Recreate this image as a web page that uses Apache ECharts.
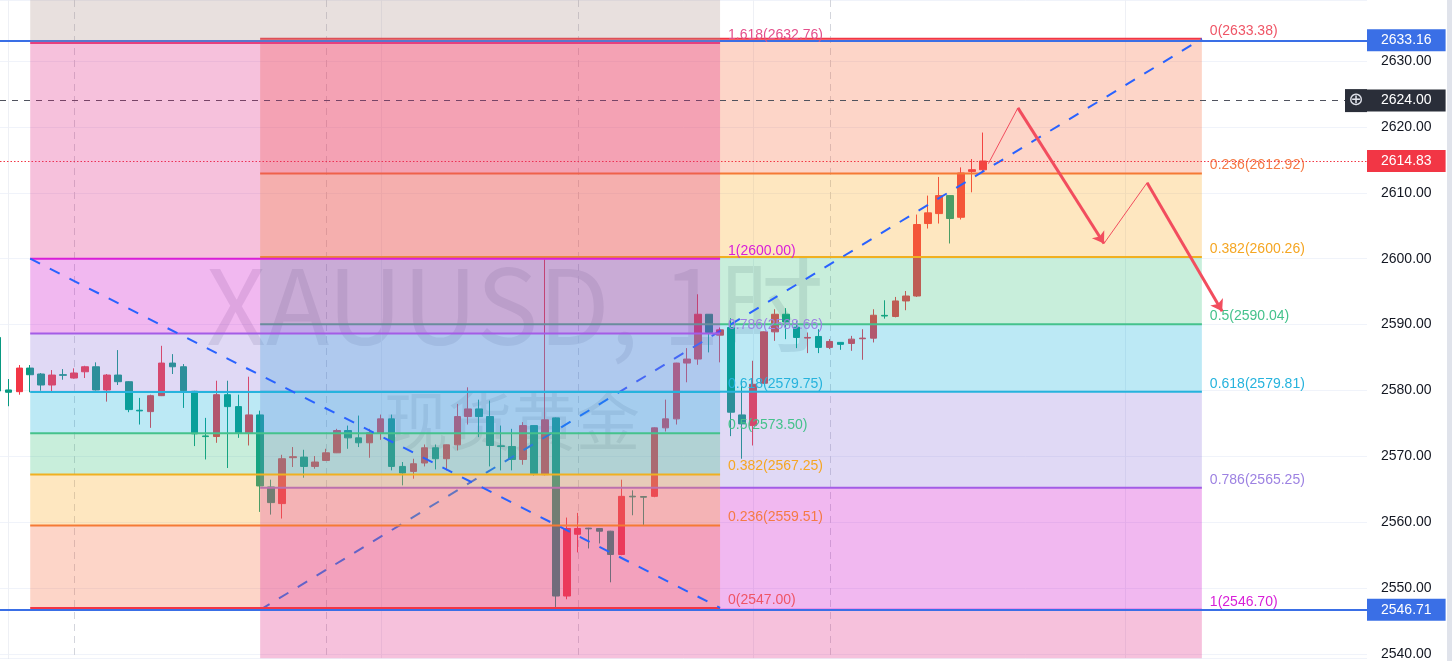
<!DOCTYPE html>
<html><head><meta charset="utf-8">
<script src="https://cdn.jsdelivr.net/npm/echarts@6/dist/echarts.min.js"></script>
<style>html,body{margin:0;padding:0;background:#fff;overflow:hidden}#c{width:1452px;height:661px}</style>
</head><body><div id="c"></div>
<script>
// ---------------- data ----------------
const firstBar = -1; // bar index of the first candle
const opens = [2588.05,2580.08,2579.82,2583.40,2582.50,2580.83,2582.40,2581.89,2582.84,2583.60,2580.08,2582.34,2581.33,2577.00,2576.79,2579.21,2584.16,2583.60,2579.88,2573.10,2573.01,2579.36,2577.55,2573.57,2576.29,2565.36,2562.83,2569.80,2569.89,2568.47,2569.38,2570.54,2573.92,2572.81,2572.06,2573.57,2575.69,2568.47,2567.72,2568.99,2571.30,2569.64,2571.75,2576.04,2577.20,2576.04,2571.60,2571.50,2569.53,2574.67,2567.22,2575.84,2548.80,2558.18,2559.10,2559.05,2558.64,2555.11,2563.95,2563.90,2563.93,2574.33,2575.69,2584.16,2584.77,2591.57,2588.40,2589.56,2576.29,2574.67,2581.10,2588.90,2591.57,2589.61,2587.95,2588.20,2586.54,2587.30,2587.14,2587.85,2587.94,2591.40,2591.23,2593.59,2594.34,2605.34,2606.85,2609.58,2606.29,2613.25,2613.50];
const closes = [2579.92,2579.73,2583.40,2582.39,2580.83,2582.34,2582.30,2582.65,2583.60,2580.08,2582.34,2581.33,2577.10,2576.90,2579.21,2584.16,2583.60,2579.97,2573.42,2573.00,2579.36,2577.55,2573.57,2576.29,2565.51,2562.98,2569.64,2569.95,2568.47,2569.14,2570.54,2573.92,2572.81,2572.06,2573.57,2575.69,2568.47,2567.47,2568.88,2571.30,2569.64,2571.75,2576.04,2577.20,2576.04,2571.65,2571.50,2569.53,2574.67,2567.37,2575.54,2548.80,2559.05,2559.05,2559.00,2558.64,2555.11,2563.93,2563.85,2563.80,2574.33,2575.69,2584.16,2584.77,2591.57,2588.80,2589.20,2576.70,2574.93,2580.94,2588.90,2591.57,2590.40,2588.05,2588.05,2586.54,2587.44,2587.00,2587.79,2587.95,2591.42,2591.30,2593.59,2594.34,2605.19,2606.96,2609.58,2606.10,2613.01,2613.51,2614.83];
const lows = [2578.10,2577.61,2579.36,2579.73,2579.97,2579.82,2581.63,2581.80,2581.89,2580.00,2578.31,2580.83,2576.70,2574.83,2574.33,2579.15,2582.50,2577.35,2571.56,2569.53,2572.06,2568.23,2572.81,2571.65,2561.57,2561.16,2560.56,2568.38,2566.76,2568.12,2569.30,2570.50,2571.15,2571.41,2569.79,2572.51,2567.87,2565.60,2566.61,2568.47,2568.02,2567.87,2570.89,2574.83,2572.92,2568.47,2567.87,2567.87,2568.73,2567.07,2567.10,2546.75,2548.31,2555.42,2556.02,2556.78,2550.88,2555.00,2561.06,2559.55,2563.80,2573.77,2574.83,2581.24,2583.90,2585.78,2584.27,2573.07,2569.64,2571.65,2581.00,2587.53,2587.79,2586.43,2585.67,2585.67,2586.28,2586.17,2586.02,2584.66,2587.29,2590.90,2591.10,2592.18,2594.20,2604.58,2605.34,2602.31,2605.95,2610.08,2613.25];
const highs = [2588.40,2581.74,2583.86,2583.86,2582.65,2583.10,2583.25,2583.36,2583.75,2584.27,2582.50,2586.13,2581.40,2578.87,2579.36,2586.78,2585.52,2584.01,2579.95,2575.84,2581.48,2581.48,2579.36,2582.09,2576.94,2566.46,2570.24,2571.41,2571.00,2570.05,2571.15,2574.18,2574.67,2576.19,2574.18,2576.34,2576.34,2569.14,2569.64,2571.80,2571.80,2571.80,2577.96,2580.48,2578.61,2578.46,2574.67,2574.18,2575.19,2574.70,2599.89,2575.90,2560.71,2561.42,2559.15,2559.10,2558.70,2566.46,2564.84,2563.95,2574.40,2578.61,2584.20,2586.43,2594.60,2591.60,2589.56,2590.97,2581.50,2584.51,2588.95,2592.33,2592.50,2590.50,2588.80,2589.30,2587.80,2587.35,2588.29,2589.30,2592.33,2593.69,2594.20,2595.10,2606.70,2609.58,2612.41,2609.60,2613.86,2615.13,2619.15];

// Fibonacci retracement A (drawn on top)
const fibA_ratios = ['0','0.236','0.382','0.5','0.618','0.786','1','1.618','2.618'];
const fibA_prices = [2547.00,2559.51,2567.25,2573.50,2579.75,2588.66,2600.00,2632.76,2685.75];
const fibA_bars = [2, 65];
const fibA_trend = [[2, 2600.00], [65, 2547.00]];
// Fibonacci retracement B
const fibB_ratios = ['0','0.236','0.382','0.5','0.618','0.786','1','1.618'];
const fibB_prices = [2633.38,2612.92,2600.26,2590.04,2579.81,2565.25,2546.70,2493.13];
const fibB_bars = [23, 109];
const fibB_trend = [[23, 2546.70], [109, 2633.38]];

const horizontalLines = [2633.16, 2546.71];
const lastPrice = 2614.83;
const crosshairPrice = 2624.00;
const sessionBreaks = [6, 29, 52, 75];
const timeGridBars = [0, 34, 68, 102];
const pathPoints = [[89.5, 2614.42], [92.2, 2622.89], [100.06, 2602.31], [104.0, 2611.54], [110.85, 2592.03]];
const arrowSegments = [[1, 2], [3, 4]];
const watermarkLines = ['XAUUSD, 1时', '现货黄金'];

// ---------------- styles ----------------
const X_MIN = -0.758, X_MAX = 124.08;
const Y_MIN = 2539.34, Y_MAX = 2639.27;
const UP = '#f23645', DOWN = '#089981';
const ZONE_ALPHA = 0.28;
const zoneSeen = ['#fdd5c8','#fee7c0','#c8eedb','#bce9f5','#e0d9f5','#f1b8f0','#f6c1dc','#e8e0de'];
const lineColors = ['#f23645','#f57a35','#f0b020','#45c28c','#26b3dd','#a45ce6','#d81fd8','#e6407e','#9e9e9e'];
const textColors = ['#ef5566','#f57a45','#f5a623','#45c28c','#26b3dd','#9d82e2','#d81fd8','#e4508c','#9e9e9e'];
const FONT = '14px "Liberation Sans", Arial, sans-serif';

function zoneFill(hex) {
  const v = [1,3,5].map(j => parseInt(hex.substr(j,2),16));
  const c = v.map(x => Math.max(0, Math.min(255, Math.round(255 - (255 - x) / ZONE_ALPHA))));
  return 'rgba(' + c.join(',') + ',' + ZONE_ALPHA + ')';
}
const zoneFills = zoneSeen.map(zoneFill);

function fibSeries(prices, ratios, bars, trend, z) {
  const n = prices.length;
  return {
    type: 'custom', z: z, silent: true, coordinateSystem: 'cartesian2d',
    data: prices.map((p, i) => [i, p]),
    renderItem: function (params, api) {
      const i = api.value(0), p = api.value(1);
      const cs = params.coordSys;
      const bounds = {x: cs.x, y: cs.y, width: cs.width, height: cs.height};
      const L = api.coord([bars[0], p]), R = api.coord([bars[1], p]);
      const ch = [];
      if (i < n - 1) {
        const q = api.coord([bars[0], prices[i + 1]]);
        const r = echarts.graphic.clipRectByRect({x: L[0], y: Math.min(L[1], q[1]), width: R[0] - L[0], height: Math.abs(q[1] - L[1])}, bounds);
        if (r) ch.push({type: 'rect', shape: r, style: {fill: zoneFills[i]}, z2: 0});
      }
      ch.push({type: 'line', shape: {x1: L[0], y1: L[1], x2: R[0], y2: R[1]}, style: {stroke: lineColors[i], lineWidth: 2}, z2: 10});
      ch.push({type: 'text', x: R[0] + 8, y: R[1] - 1, style: {text: ratios[i] + '(' + p.toFixed(2) + ')', fill: textColors[i], font: FONT, align: 'left', verticalAlign: 'bottom'}, z2: 20});
      if (i === 0) {
        const a = api.coord(trend[0]), b = api.coord(trend[1]);
        ch.push({type: 'line', shape: {x1: a[0], y1: a[1], x2: b[0], y2: b[1]}, style: {stroke: '#2962ff', lineWidth: 2, lineDash: [11, 11]}, z2: 15});
      }
      return {type: 'group', children: ch};
    }
  };
}

const chart = echarts.init(document.getElementById('c'), null, {renderer: 'canvas'});
const boxLabel = (bg) => ({show: true, position: 'end', distance: 0, backgroundColor: bg, color: '#fff',
  padding: [4, 14, 4, 14], fontSize: 14, lineHeight: 14, fontFamily: '"Liberation Sans", Arial, sans-serif',
  formatter: (p) => Number(p.value).toFixed(2)});

chart.setOption({
  animation: false,
  backgroundColor: '#ffffff',
  grid: {left: 0, right: 85, top: 0, bottom: 0, containLabel: false},
  xAxis: {type: 'value', min: X_MIN, max: X_MAX, show: false},
  yAxis: {
    type: 'value', position: 'right', min: Y_MIN, max: Y_MAX, splitNumber: 10,
    axisLine: {show: true, lineStyle: {color: '#e0e3eb'}}, axisTick: {show: false},
    axisLabel: {color: '#131722', fontSize: 14, margin: 14, fontFamily: '"Liberation Sans", Arial, sans-serif',
      formatter: v => (Math.abs(v / 10 - Math.round(v / 10)) < 1e-6 ? v.toFixed(2) : '')},
    splitLine: {show: true, lineStyle: {color: '#f0f3fa'}}
  },
  graphic: [
    {type: 'text', x: 515, y: 305, z: 1, silent: true, style: {text: watermarkLines[0], font: '104px "Noto Sans CJK SC", sans-serif', fill: 'rgba(110,110,135,0.18)', align: 'center', verticalAlign: 'middle'}},
    {type: 'text', x: 512, y: 421, z: 1, silent: true, style: {text: watermarkLines[1], font: '64px "Noto Sans CJK SC", sans-serif', fill: 'rgba(110,110,135,0.18)', align: 'center', verticalAlign: 'middle'}},
    {type: 'rect', right: 0, top: 0, z: 10, shape: {width: 5, height: 661}, style: {fill: '#e0e3eb'}}
  ],
  series: [
    { // vertical time grid and session breaks
      type: 'custom', z: 1, silent: true, coordinateSystem: 'cartesian2d',
      data: sessionBreaks.map(k => [k, 2600, 0]).concat(timeGridBars.map(k => [k, 2600, 1])),
      renderItem: function (params, api) {
        const cs = params.coordSys;
        const x = Math.round(api.coord([api.value(0), api.value(1)])[0]) + 0.5;
        const solid = api.value(2) === 1;
        return {type: 'line', shape: {x1: x, y1: cs.y, x2: x, y2: cs.y + cs.height},
          style: solid ? {stroke: '#eef0f5', lineWidth: 1} : {stroke: '#d3d5dc', lineWidth: 1, lineDash: [7, 5]}};
      }
    },
    {
      type: 'candlestick', z: 2, barWidth: 7,
      data: opens.map((o, i) => [firstBar + i, o, closes[i], lows[i], highs[i]]),
      encode: {x: 0, y: [1, 2, 3, 4]},
      itemStyle: {color: UP, color0: DOWN, borderColor: UP, borderColor0: DOWN, borderWidth: 1}
    },
    { // horizontal lines
      type: 'line', z: 3, data: [], clip: false,
      markLine: {silent: true, symbol: ['none', 'none'], animation: false,
        lineStyle: {color: '#3a6fe6', width: 2, type: 'solid'},
        label: boxLabel('#3a6fe6'),
        data: horizontalLines.map(v => ({yAxis: v}))}
    },
    fibSeries(fibB_prices, fibB_ratios, fibB_bars, fibB_trend, 4),
    fibSeries(fibA_prices, fibA_ratios, fibA_bars, fibA_trend, 5),
    { // thin path
      type: 'lines', z: 6, coordinateSystem: 'cartesian2d', polyline: true, silent: true,
      lineStyle: {color: '#f24d5e', width: 1, opacity: 1},
      data: [{coords: pathPoints}]
    },
    { // thick arrows
      type: 'lines', z: 6, coordinateSystem: 'cartesian2d', silent: true,
      symbol: ['none', 'arrow'], symbolSize: 11,
      lineStyle: {color: '#f24d5e', width: 3, opacity: 1},
      data: arrowSegments.map(s => ({coords: [pathPoints[s[0]], pathPoints[s[1]]]}))
    },
    { // last price + crosshair
      type: 'line', z: 7, data: [], clip: false,
      markLine: {silent: true, symbol: ['none', 'none'], animation: false,
        data: [
          {yAxis: lastPrice, lineStyle: {color: UP, width: 1, type: [1.5, 2]}, label: boxLabel(UP)},
          {yAxis: crosshairPrice, lineStyle: {color: '#50535e', width: 1, type: [6, 6]}, label: boxLabel('#2a2e39')}
        ]},
      markPoint: {silent: true, animation: false,
        data: [{coord: [X_MAX, crosshairPrice], symbol: 'rect', symbolSize: [22, 23], symbolOffset: [-11, 0],
          itemStyle: {color: '#2a2e39'},
          label: {show: true, position: 'inside', formatter: '\u2295', color: '#e0e3eb', fontSize: 18, fontFamily: 'DejaVu Sans'}}]}
    }
  ]
});
</script>
</body></html>
